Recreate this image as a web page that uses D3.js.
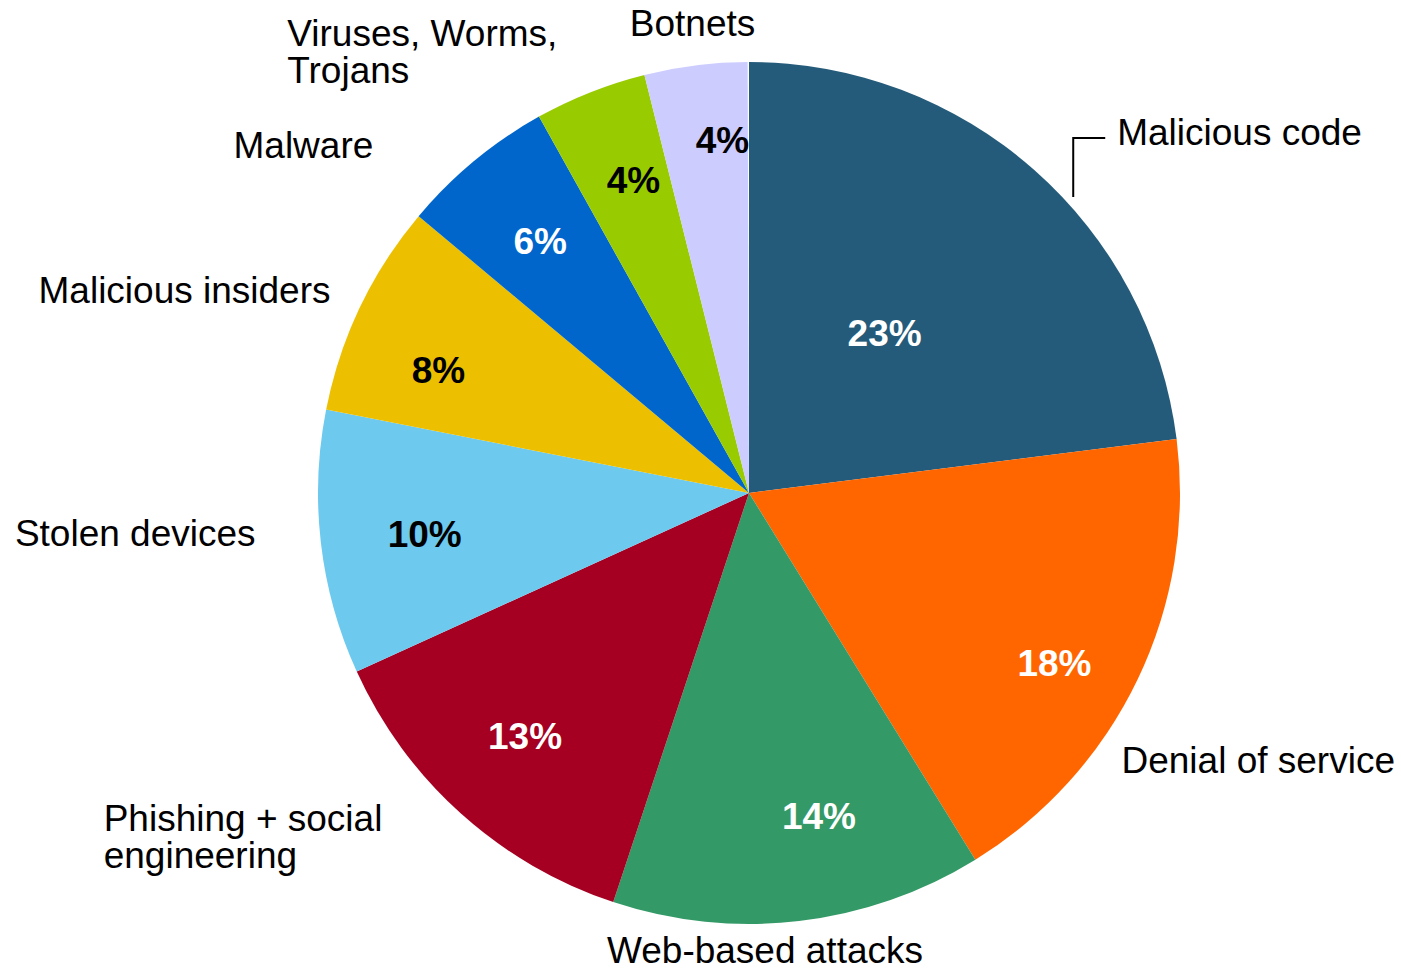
<!DOCTYPE html>
<html lang="en">
<head>
<meta charset="utf-8">
<title>Security threats</title>
<script src="https://d3js.org/d3.v7.min.js"></script>
<style>
  body { margin: 0; background: #fff; }
  text { font-family: "Liberation Sans", Arial, sans-serif; }
</style>
</head>
<body>
<div id="chart"></div>
<script>
// slice names, clockwise from 12 o'clock
const categories = ["Malicious code", "Denial of service", "Web-based attacks",
  "Phishing + social\nengineering", "Stolen devices", "Malicious insiders",
  "Malware", "Viruses, Worms,\nTrojans", "Botnets"];
// shares in percent
const shares = [23.0, 18.2, 13.9, 13.1, 9.9, 8.0, 5.8, 4.2, 3.85];
const colors = ["#245b7a", "#ff6600", "#339966", "#a50021", "#6dc9ee",
  "#ecc000", "#0066cc", "#99cc00", "#ccccff"];
const pctColors = ["#fff", "#fff", "#fff", "#fff", "#000", "#000", "#fff", "#000", "#000"];

// nudges for the percent labels (from the centroid at 0.76 R)
const pctNudge = [[-81, 86], [10, 29], [32, -2], [-5, -1], [1, 3], [-15, 18], [0, 0], [5, -8], [14, -28]];
// nudges for the category labels (from the point at 1.12 R)
const labelNudge = [[49, 14], [-63, 72], [-40, -9], [-44, -21], [-14, -3], [17, 18], [-68, 37], [-14, 2], [66, 22]];

const width = 1401, height = 970;
const cx = 749, cy = 493, R = 431;

const svg = d3.select("#chart").append("svg")
  .attr("width", width).attr("height", height);
const g = svg.append("g").attr("transform", "translate(" + cx + "," + cy + ")");

const data = categories.map((c, i) => ({ name: c, value: shares[i], i: i }));
const total = d3.sum(shares);

const pie = d3.pie().sort(null).value(d => d.value)
  .startAngle(0).endAngle(2 * Math.PI * total / 100);
const arcs = pie(data);

const arc = d3.arc().innerRadius(0).outerRadius(R);
const pctArc = d3.arc().innerRadius(R * 0.76).outerRadius(R * 0.76);
const outArc = d3.arc().innerRadius(R * 1.12).outerRadius(R * 1.12);

g.selectAll("path.slice")
  .data(arcs)
  .enter().append("path")
  .attr("class", "slice")
  .attr("d", arc)
  .attr("fill", d => colors[d.data.i]);

// percent labels
g.selectAll("text.pct")
  .data(arcs)
  .enter().append("text")
  .attr("class", "pct")
  .attr("x", d => pctArc.centroid(d)[0] + pctNudge[d.data.i][0])
  .attr("y", d => pctArc.centroid(d)[1] + pctNudge[d.data.i][1])
  .attr("dy", "0.35em")
  .attr("text-anchor", "middle")
  .style("font-size", "37px")
  .style("font-weight", "bold")
  .attr("fill", d => pctColors[d.data.i])
  .text(d => Math.round(d.data.value) + "%");

// category labels
const lineH = 36.5;
const labels = g.selectAll("text.cat")
  .data(arcs)
  .enter().append("text")
  .attr("class", "cat")
  .style("font-size", "37px")
  .attr("fill", "#000");

labels.each(function (d) {
  const t = d3.select(this);
  const lines = d.data.name.split("\n");
  lines.forEach((l, k) => {
    t.append("tspan").attr("dy", k === 0 ? 0 : lineH).text(l);
  });
  const p = outArc.centroid(d);
  const n = labelNudge[d.data.i];
  const mid = (d.startAngle + d.endAngle) / 2;
  let w = 0;
  t.selectAll("tspan").each(function () { w = Math.max(w, this.getComputedTextLength()); });
  let x = p[0] + n[0];
  if (mid > Math.PI * 1.1) x -= w;           // left side: right edge at anchor
  else if (mid > Math.PI * 0.9) x -= w / 2;  // bottom: centred
  const y = p[1] + n[1];
  t.attr("x", x).attr("y", y);
  t.selectAll("tspan").attr("x", x);
  t.select("tspan").attr("y", y);

  // leader line for the first slice
  if (d.data.i === 0) {
    const lx = x - 44, ly = y - 7;
    const edgeY = -Math.sqrt(R * R - lx * lx) - 12;
    g.append("path")
      .attr("d", "M" + (x - 12) + "," + ly + "H" + lx + "V" + edgeY)
      .attr("fill", "none")
      .attr("stroke", "#000")
      .attr("stroke-width", 2);
  }
});
</script>
</body>
</html>
